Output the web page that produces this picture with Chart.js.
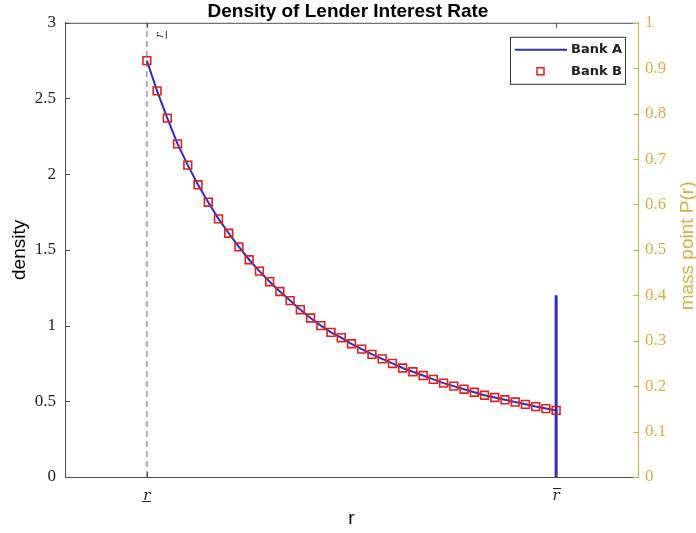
<!DOCTYPE html>
<html>
<head>
<meta charset="utf-8">
<script src="https://cdn.jsdelivr.net/npm/chart.js@4.4.0/dist/chart.umd.min.js"></script>
<style>
  html, body { margin: 0; padding: 0; background: #fff; }
  canvas { display: block; }
</style>
</head>
<body>
<canvas id="c" width="696" height="533"></canvas>
<script>
// lender interest rate grid, between r_low and r_high
const rValues = [1.0000, 1.0375, 1.0750, 1.1125, 1.1500, 1.1875, 1.2250, 1.2625, 1.3000, 1.3375,
  1.3750, 1.4125, 1.4500, 1.4875, 1.5250, 1.5625, 1.6000, 1.6375, 1.6750, 1.7125,
  1.7500, 1.7875, 1.8250, 1.8625, 1.9000, 1.9375, 1.9750, 2.0125, 2.0500, 2.0875,
  2.1250, 2.1625, 2.2000, 2.2375, 2.2750, 2.3125, 2.3500, 2.3875, 2.4250, 2.4625, 2.5000];
const bankA = [2.75, 2.55, 2.37, 2.20, 2.06, 1.93, 1.815, 1.705, 1.61, 1.52,
  1.435, 1.36, 1.29, 1.225, 1.165, 1.105, 1.05, 1.00, 0.955, 0.92,
  0.88, 0.845, 0.81, 0.78, 0.75, 0.72, 0.695, 0.67, 0.645, 0.62,
  0.60, 0.58, 0.56, 0.54, 0.525, 0.51, 0.495, 0.48, 0.465, 0.452, 0.44];
const bankB = [2.75, 2.55, 2.37, 2.20, 2.06, 1.93, 1.815, 1.705, 1.61, 1.52,
  1.435, 1.36, 1.29, 1.225, 1.165, 1.105, 1.05, 1.00, 0.955, 0.92,
  0.88, 0.845, 0.81, 0.78, 0.75, 0.72, 0.695, 0.67, 0.645, 0.62,
  0.60, 0.58, 0.56, 0.54, 0.525, 0.51, 0.495, 0.48, 0.465, 0.452, 0.44];
const rLow = 1;
const rHigh = 2.5;
const massPoint = 0.4;

const GOLD = "#d8b040";
const BLUE = "#2e2ec2";
const AXIS = "#4d4d4d";

const fmt = (v) => String(Math.round(v * 100) / 100);

// box, inward ticks, bars on the r labels, xline label, right title, legend
const decorations = {
  id: "decorations",
  afterDatasetsDraw(chart) {
    const { ctx, chartArea: a, scales } = chart;
    ctx.save();
    ctx.lineWidth = 1;
    ctx.strokeStyle = AXIS;
    ctx.beginPath();
    ctx.moveTo(a.left, a.top + 0.5);
    ctx.lineTo(a.right, a.top + 0.5);
    scales.x.ticks.forEach((t) => {
      const px = Math.round(scales.x.getPixelForValue(t.value)) + 0.5;
      ctx.moveTo(px, a.bottom);
      ctx.lineTo(px, a.bottom - 5);
      ctx.moveTo(px, a.top);
      ctx.lineTo(px, a.top + 5);
    });
    scales.y.ticks.forEach((t) => {
      const py = Math.round(scales.y.getPixelForValue(t.value)) + 0.5;
      ctx.moveTo(a.left, py);
      ctx.lineTo(a.left + 5, py);
    });
    ctx.stroke();
    ctx.strokeStyle = GOLD;
    ctx.beginPath();
    scales.y2.ticks.forEach((t) => {
      const py = Math.round(scales.y2.getPixelForValue(t.value)) + 0.5;
      ctx.moveTo(a.right, py);
      ctx.lineTo(a.right - 5, py);
    });
    ctx.stroke();

    // under bar on r_low, over bar on r_high
    const pLow = scales.x.getPixelForValue(rLow);
    const pHigh = scales.x.getPixelForValue(rHigh);
    ctx.strokeStyle = "#222";
    ctx.lineWidth = 1;
    ctx.beginPath();
    ctx.moveTo(pLow - 5, a.bottom + 24.5);
    ctx.lineTo(pLow + 4, a.bottom + 24.5);
    ctx.moveTo(pHigh - 3, a.bottom + 11.5);
    ctx.lineTo(pHigh + 5, a.bottom + 11.5);
    ctx.stroke();

    // label of the dashed line (rotated r with under bar)
    ctx.save();
    ctx.translate(pLow + 16, a.top + 15);
    ctx.rotate(-Math.PI / 2);
    ctx.fillStyle = "#333";
    ctx.font = "italic 11px 'DejaVu Serif'";
    ctx.textBaseline = "alphabetic";
    ctx.fillText("r", 0, 0);
    ctx.strokeStyle = "#333";
    ctx.beginPath();
    ctx.moveTo(-1, 3.5);
    ctx.lineTo(7, 3.5);
    ctx.stroke();
    ctx.restore();

    // right axis title, reading upwards
    ctx.save();
    ctx.translate(688, (a.top + a.bottom) / 2 - 4);
    ctx.rotate(-Math.PI / 2);
    ctx.fillStyle = GOLD;
    ctx.font = "19px 'Liberation Sans'";
    ctx.textAlign = "center";
    ctx.textBaseline = "middle";
    ctx.fillText("mass point P(r)", 0, 0);
    ctx.restore();

    // legend
    const bx = a.right - 128, by = a.top + 14, bw = 115, bh = 47;
    ctx.fillStyle = "#fff";
    ctx.fillRect(bx, by, bw, bh);
    ctx.strokeStyle = "#333";
    ctx.lineWidth = 1;
    ctx.strokeRect(bx + 0.5, by + 0.5, bw, bh);
    const dsA = chart.data.datasets[1], dsB = chart.data.datasets[0];
    ctx.strokeStyle = dsA.borderColor;
    ctx.lineWidth = 2;
    ctx.beginPath();
    ctx.moveTo(bx + 5, by + 13);
    ctx.lineTo(bx + 57, by + 13);
    ctx.stroke();
    ctx.strokeStyle = dsB.pointBorderColor;
    ctx.lineWidth = 1.5;
    ctx.strokeRect(bx + 27, by + 31, 7, 7);
    ctx.fillStyle = "#222";
    ctx.font = "bold 13px 'DejaVu Sans'";
    ctx.textBaseline = "middle";
    ctx.fillText(dsA.label, bx + 61, by + 13);
    ctx.fillText(dsB.label, bx + 61, by + 35);
    ctx.restore();
  }
};

new Chart(document.getElementById("c"), {
  type: "line",
  data: {
    datasets: [
      {
        label: "Bank B",
        data: rValues.map((r, i) => ({ x: r, y: bankB[i] })),
        showLine: false,
        pointStyle: "rect",
        pointRadius: 5.5,
        pointBorderColor: "#e0201c",
        pointBackgroundColor: "rgba(0,0,0,0)",
        pointBorderWidth: 1.6,
        yAxisID: "y",
      },
      {
        label: "Bank A",
        data: rValues.map((r, i) => ({ x: r, y: bankA[i] })),
        borderColor: BLUE,
        borderWidth: 2,
        pointRadius: 0,
        yAxisID: "y",
      },
      {
        label: "mass point",
        data: [{ x: rHigh, y: 0 }, { x: rHigh, y: massPoint }],
        borderColor: "#2a2abf",
        borderWidth: 3,
        pointRadius: 0,
        yAxisID: "y2",
      },
      {
        label: "r low",
        data: [{ x: rLow, y: 0 }, { x: rLow, y: 3 }],
        borderColor: "#8c8c8c",
        borderWidth: 1.3,
        borderDash: [6, 4],
        pointRadius: 0,
        yAxisID: "y",
      },
    ],
  },
  options: {
    responsive: false,
    animation: false,
    devicePixelRatio: 1,
    layout: { padding: 0 },
    plugins: {
      legend: { display: false },
      tooltip: { enabled: false },
      title: {
        display: true,
        text: "Density of Lender Interest Rate",
        color: "#000",
        font: { family: "Liberation Sans", size: 19, weight: "bold" },
        padding: { top: 0, bottom: 0 },
      },
    },
    scales: {
      x: {
        type: "linear",
        min: 0.7,
        max: 2.8,
        afterBuildTicks: (s) => { s.ticks = [{ value: rLow }, { value: rHigh }]; },
        afterFit: (s) => { s.height = 56; },
        grid: { display: false, drawTicks: false },
        border: { color: AXIS },
        ticks: {
          callback: () => "r",
          font: { family: "DejaVu Serif", size: 15, style: "italic" },
          color: "#222",
          padding: 10,
          maxRotation: 0,
          autoSkip: false,
        },
        title: {
          display: true,
          text: "r",
          color: "#000",
          font: { family: "Liberation Sans", size: 19 },
          padding: { top: 0, bottom: 3 },
        },
      },
      y: {
        position: "left",
        min: 0,
        max: 3,
        afterFit: (s) => { s.width = 65; },
        grid: { display: false, drawTicks: false },
        border: { color: AXIS },
        ticks: {
          stepSize: 0.5,
          callback: fmt,
          font: { family: "Liberation Serif", size: 17 },
          color: "#222",
          padding: 9,
        },
        title: {
          display: true,
          text: "density",
          color: "#000",
          font: { family: "Liberation Sans", size: 19 },
          padding: { top: 8, bottom: 0 },
        },
      },
      y2: {
        position: "right",
        min: 0,
        max: 1,
        afterFit: (s) => { s.width = 58; },
        grid: { display: false, drawTicks: false },
        border: { color: GOLD },
        ticks: {
          stepSize: 0.1,
          callback: fmt,
          font: { family: "Liberation Serif", size: 17 },
          color: GOLD,
          padding: 7,
        },
      },
    },
  },
  plugins: [decorations],
});
</script>
</body>
</html>
